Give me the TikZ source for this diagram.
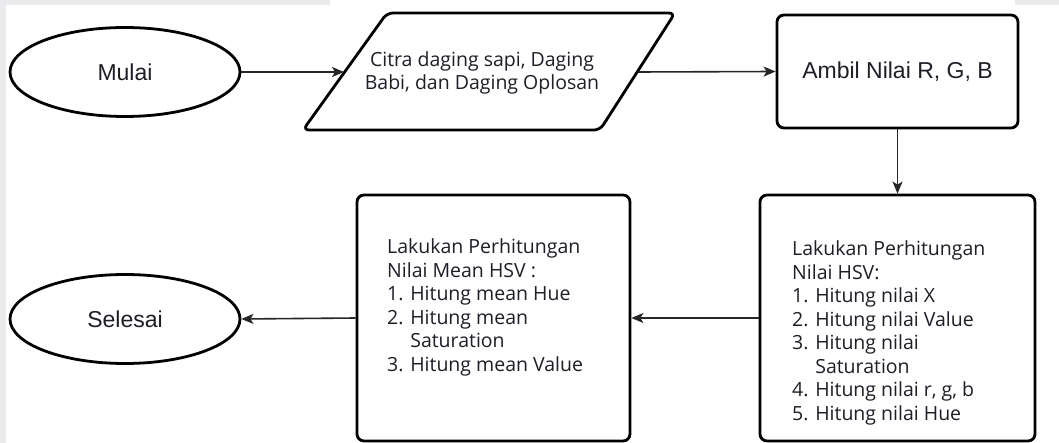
\documentclass[tikz,border=0pt]{standalone}
\usepackage{fontspec}
\setmainfont{Open Sans}
\newfontfamily\arialfont{Liberation Sans}
\usetikzlibrary{arrows.meta,shapes.geometric}

\definecolor{ink}{HTML}{1E1E28}
\definecolor{edge}{HTML}{EBEBEE}

\tikzset{
  terminal/.style={draw=black, line width=2.8pt, ellipse, minimum width=230pt, minimum height=89pt,
    font=\arialfont\fontsize{23}{27}\selectfont, text=ink},
  procbox/.style={draw=black, line width=2.8pt, rounded corners=7pt},
  listtext/.style={anchor=north west, inner sep=0pt, align=left, text=ink,
    font=\fontsize{19.5}{23.5}\selectfont},
  flow/.style={draw=black!85, line width=1.6pt, -{Stealth[length=12pt, width=10pt, inset=3pt]}},
}

\begin{document}
\begin{tikzpicture}[x=1pt, y=-1pt]
  % page frame
  \useasboundingbox (0,0) rectangle (1059,443);
  \fill[white] (0,0) rectangle (1059,443);
  \fill[edge] (0,0) rectangle (6,443);
  \fill[edge] (0,0) rectangle (330,5);
  \fill[edge] (1015,0) rectangle (1059,5);

  % start / end terminals
  \node[terminal] (mulai) at (125,72) {Mulai};
  \node[terminal] (selesai) at (125,319) {Selesai};

  % input parallelogram
  \draw[line width=2.8pt, rounded corners=6pt]
    (387,13) -- (675,13) -- (600,130) -- (303,130) -- cycle;
  \coordinate (inL) at (344,72);
  \coordinate (inR) at (638,72);
  \node[align=center, inner sep=0pt, text=ink, font=\fontsize{19.5}{23.5}\selectfont]
    (input) at (482,73) {Citra daging sapi, Daging\\Babi, dan Daging Oplosan};

  % process boxes
  \node[procbox, minimum width=241pt, minimum height=113pt,
    font=\arialfont\fontsize{23}{27}\selectfont, text=ink] (rgb) at (897.5,71.5) {Ambil Nilai R, G, B};
  \node[procbox, minimum width=275pt, minimum height=246pt] (hsv) at (897.5,318) {};
  \node[procbox, minimum width=273pt, minimum height=246pt] (mean) at (493.5,318) {};

  % box contents
  \node[listtext] (hsvtext) at (792,240.5) {Lakukan Perhitungan\\Nilai HSV:\\
    1. Hitung nilai X\\2. Hitung nilai Value\\3. Hitung nilai\\\phantom{3. }Saturation\\
    4. Hitung nilai r, g, b\\5. Hitung nilai Hue};
  \node[listtext] (meantext) at (387,238.5) {Lakukan Perhitungan\\Nilai Mean HSV :\\
    1. Hitung mean Hue\\2. Hitung mean\\\phantom{2. }Saturation\\3. Hitung mean Value};

  % connectors
  \draw[flow] (mulai.east) -- (inL);
  \draw[flow] (inR) -- (rgb.west);
  \draw[flow] (rgb.south) -- (hsv.north);
  \draw[flow] (hsv.west) -- (mean.east);
  \draw[flow] (mean.west) -- (selesai.east);
\end{tikzpicture}
\end{document}
